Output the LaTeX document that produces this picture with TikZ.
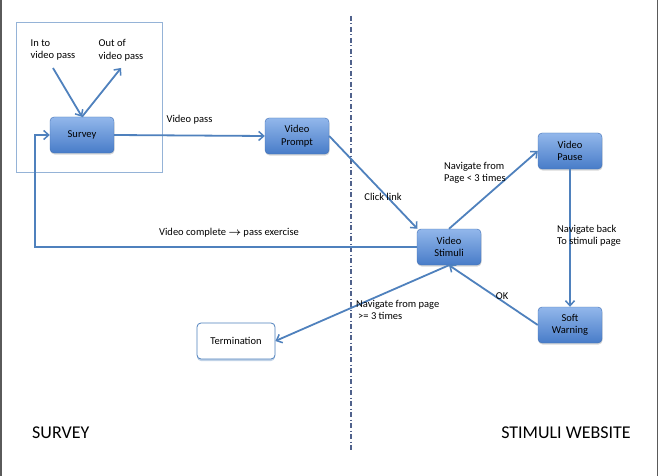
\documentclass[tikz,border=0pt]{standalone}
\usepackage{amsmath}
\usepackage{fontspec}
\setmainfont{Carlito}
\usepackage{tikz}
\usetikzlibrary{arrows.meta,shadows}
\definecolor{flowblue}{RGB}{79,129,189}
\definecolor{boxtop}{RGB}{146,183,235}
\definecolor{boxbot}{RGB}{72,124,200}
\definecolor{framegray}{RGB}{90,90,90}
\definecolor{lightframe}{RGB}{149,179,215}
\definecolor{splitline}{RGB}{80,98,140}
\tikzstyle{state}=[rounded corners=4pt, draw=boxbot!90!black, top color=boxtop, bottom color=boxbot,
  minimum width=64pt, minimum height=36pt, align=center, inner sep=1pt,
  font=\fontsize{10.5}{12.5}\selectfont, drop shadow={opacity=0.3, shadow xshift=0.5pt, shadow yshift=-1.5pt}]
\tikzstyle{endstate}=[rounded corners=4pt, draw=flowblue, fill=white, line width=0.8pt,
  minimum width=78pt, minimum height=36pt, font=\fontsize{10.5}{12.5}\selectfont,
  drop shadow={opacity=0.35, fill=flowblue, shadow xshift=0pt, shadow yshift=-2pt}]
\tikzstyle{flow}=[draw=flowblue, line width=1.8pt, -{Straight Barb[length=5pt,width=9pt,line width=1.5pt]}]
\tikzstyle{lbl}=[font=\fontsize{10.5}{12.5}\selectfont, align=left, inner sep=0pt]
\tikzstyle{side}=[font=\fontsize{18}{20}\selectfont, inner sep=0pt]

\begin{document}
\begin{tikzpicture}[x=1pt,y=-1pt]
   \useasboundingbox (0,0) rectangle (661,476);
   \fill[white] (0,0) rectangle (661,476);
   \draw[framegray, line width=1.5pt] (1,0) -- (1,476);
   \draw[framegray, line width=1.5pt] (657.5,0) -- (657.5,476);
   \draw[splitline, line width=1.4pt, dash pattern=on 5pt off 2.5pt on 1pt off 2.5pt] (351,16) -- (351,451);
   \draw[lightframe, line width=1pt] (16,23) rectangle (162,172);

   \node[state] (survey) at (82,135) {Survey};
   \node[state] (prompt) at (297,136) {Video\\Prompt};
   \node[state] (stim) at (449,247) {Video\\Stimuli};
   \node[state] (pause) at (570,151) {Video\\Pause};
   \node[state] (warn) at (570,325) {Soft\\Warning};
   \node[endstate] (term) at (236,341) {Termination};

   \node[lbl] (in) at (53,50) {In to\\video pass};
   \node[lbl] (out) at (121,50) {Out of\\video pass};
   \coordinate (loop) at (35,247);

   \draw[flow] (53,68) -- (survey.north);
   \draw[flow] (survey.north) -- (121,68);
   \draw[flow] (survey.east) -- node[lbl, above=10pt] {Video pass} (prompt.west);
   \draw[flow] (stim.west) -- (loop) |- (survey.west);
   \draw[flow] (prompt.east) -- (stim.150);
   \draw[flow] (stim.north) -- (pause.west);
   \draw[flow] (pause.south) -- (warn.north);
   \draw[flow] (warn.west) -- (stim.south);
   \draw[flow] (stim.south) -- (term.east);

   \node[lbl] at (229,233) {Video complete $\boldsymbol{\rightarrow}$ pass exercise};
   \node[lbl] at (383,197) {Click link};
   \node[lbl, anchor=west] at (444,173) {Navigate from\\Page < 3 times};
   \node[lbl, anchor=west] at (557,236) {Navigate back\\To stimuli page};
   \node[lbl] at (502,296) {OK};
   \node[lbl, anchor=west] at (356,310) {Navigate from page\\\hspace{2pt}>= 3 times};

   \node[side, anchor=west] at (32,433) {SURVEY};
   \node[side, anchor=east] at (631,433) {STIMULI WEBSITE};
\end{tikzpicture}
\end{document}
